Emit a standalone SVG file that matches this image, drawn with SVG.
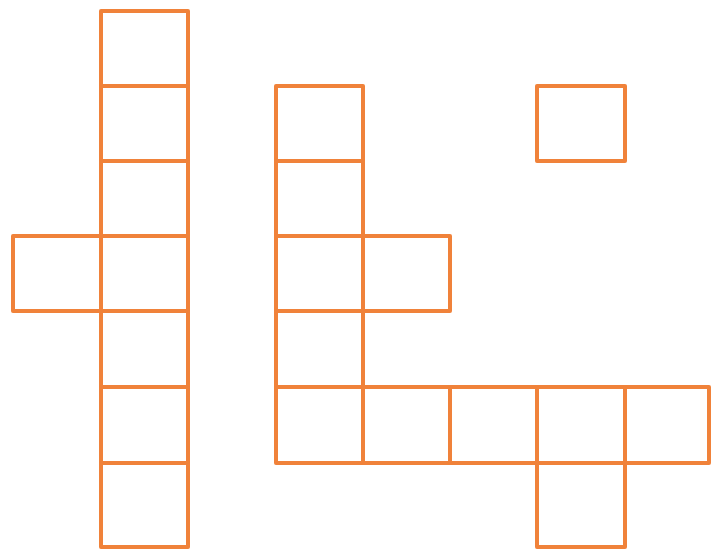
<svg xmlns="http://www.w3.org/2000/svg" width="712" height="551" viewBox="0 0 712 551">
<style>
.c{fill:none;stroke:#F0823A;stroke-width:4;stroke-linejoin:round}
</style>
<rect width="712" height="551" fill="#ffffff"/>
<g id="left-column">
<rect class="c" x="101" y="11" width="87" height="75"/>
<rect class="c" x="101" y="86" width="87" height="75"/>
<rect class="c" x="101" y="161" width="87" height="75"/>
<rect class="c" x="101" y="236" width="87" height="75"/>
<rect class="c" x="101" y="311" width="87" height="76"/>
<rect class="c" x="101" y="387" width="87" height="76"/>
<rect class="c" x="101" y="463" width="87" height="84"/>
<rect class="c" x="13" y="236" width="88" height="75"/>
</g>
<g id="middle-shape">
<rect class="c" x="276" y="86" width="87" height="75"/>
<rect class="c" x="276" y="161" width="87" height="75"/>
<rect class="c" x="276" y="236" width="87" height="75"/>
<rect class="c" x="363" y="236" width="87" height="75"/>
<rect class="c" x="276" y="311" width="87" height="76"/>
<rect class="c" x="276" y="387" width="87" height="76"/>
<rect class="c" x="363" y="387" width="87" height="76"/>
<rect class="c" x="450" y="387" width="87" height="76"/>
<rect class="c" x="537" y="387" width="88" height="76"/>
<rect class="c" x="625" y="387" width="84" height="76"/>
<rect class="c" x="537" y="463" width="88" height="84"/>
</g>
<g id="single-square">
<rect class="c" x="537" y="86" width="88" height="75"/>
</g>
</svg>
